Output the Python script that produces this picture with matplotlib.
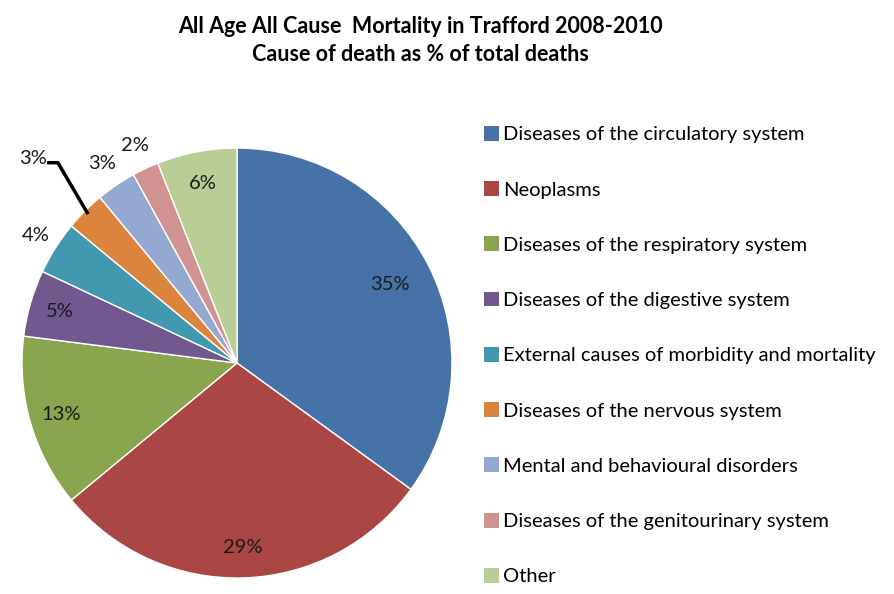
import numpy as np
import matplotlib
matplotlib.use("Agg")
import matplotlib.pyplot as plt

plt.rcParams['font.family'] = ['Lato', 'DejaVu Sans']

categories = ["Diseases of the circulatory system", "Neoplasms",
              "Diseases of the respiratory system", "Diseases of the digestive system",
              "External causes of morbidity and mortality", "Diseases of the nervous system",
              "Mental and behavioural disorders", "Diseases of the genitourinary system",
              "Other"]
values = [35, 29, 13, 5, 4, 3, 3, 2, 6]
colors = ["#4572A7", "#AA4643", "#89A54E", "#71588F", "#4198AF",
          "#DB843D", "#93A9CF", "#D19392", "#B9CD96"]
label_dist = [0.80, 0.86, 0.85, 0.86, 1.11, 1.36, 1.12, 1.12, 0.85]

fig = plt.figure(figsize=(8.95, 5.94), dpi=100)
ax = fig.add_axes([0.0246, 0.0269, 0.4804, 0.7239])

wedges, texts = ax.pie(values, colors=colors, startangle=90, counterclock=False,
                       radius=1.0, wedgeprops=dict(edgecolor='white', linewidth=1.0))
ax.set_xlim(-1, 1)
ax.set_ylim(-1, 1)
ax.set_aspect('equal')
ax.axis('off')

LF = 14.5
for i, (w, v) in enumerate(zip(wedges, values)):
    mid = np.deg2rad((w.theta1 + w.theta2) / 2)
    d = label_dist[i]
    x, y = d * np.cos(mid), d * np.sin(mid)
    if i == 5:
        ex, ey = 0.98 * np.cos(mid), 0.98 * np.sin(mid)
        kx, ky = 1.25 * np.cos(np.deg2rad(131.8)), 1.25 * np.sin(np.deg2rad(131.8))
        ax.plot([ex, kx, kx - 0.05], [ey, ky, ky], color='black', lw=2.5,
                clip_on=False, solid_capstyle='butt')
        ax.text(kx - 0.05, ky + 0.02, f"{v}%", ha='right', va='center', fontsize=LF,
                color='#1a1a1a')
    else:
        ax.text(x, y, f"{v}%", ha='center', va='center', fontsize=LF, color='#1a1a1a')

handles = [plt.Rectangle((0, 0), 1, 1, facecolor=c, edgecolor='none') for c in colors]
fig.legend(handles, categories, loc='upper left', bbox_to_anchor=(0.541, 0.788),
           frameon=False, fontsize=14.5, handlelength=0.75, handleheight=0.75,
           handletextpad=0.2, labelspacing=1.88, borderaxespad=0, borderpad=0)

fig.text(0.47, 0.955, "All Age All Cause  Mortality in Trafford 2008-2010",
         ha='center', va='center', fontsize=15.5, fontweight='bold')
fig.text(0.47, 0.908, "Cause of death as % of total deaths",
         ha='center', va='center', fontsize=15.5, fontweight='bold')

fig.savefig("out.png", dpi=100)
